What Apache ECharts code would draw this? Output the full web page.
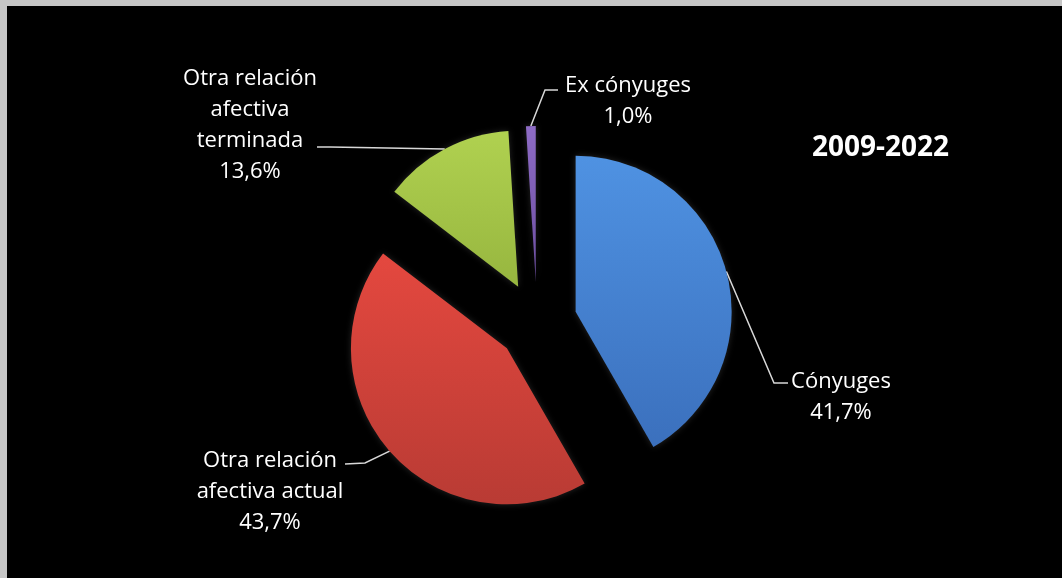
<!DOCTYPE html>
<html>
<head>
<meta charset="utf-8">
<script src="https://cdn.jsdelivr.net/npm/echarts@6/dist/echarts.min.js"></script>
<style>
	html, body { margin: 0; padding: 0; background: #c6c6c6; }
	#main { position: absolute; left: 7px; top: 6px; width: 1055px; height: 572px; background: #000; }
</style>
</head>
<body>
<div id="main"></div>
<script>
// data
const categories = ['Cónyuges', 'Otra relación afectiva actual', 'Otra relación afectiva terminada', 'Ex cónyuges'];
const labelTexts = ['Cónyuges', 'Otra relación\nafectiva actual', 'Otra relación\nafectiva\nterminada', 'Ex cónyuges'];
const values = [41.7, 43.7, 13.6, 1.0];
const period = '2009-2022';

// slice colours (top, bottom of the gradient)
const colors = [
	['#4f92e2', '#3b70bd'],
	['#e4483f', '#b93b34'],
	['#b0d150', '#97b63f'],
	['#8e6cc6', '#6c4ea0']
];

const pieCenter = [530, 316];
const explode = 40;

// where each label sits (block centre), where its leader bends and ends
const labelPos = [
	{ x: 834, y: 391, bend: [767, 377], end: [781, 377] },
	{ x: 263, y: 486, bend: [358, 457], end: [338, 458] },
	{ x: 243, y: 119, bend: [323, 141], end: [310, 141] },
	{ x: 621, y: 95, bend: [538, 84], end: [551, 84] }
];

const fmt = v => v.toFixed(1).replace('.', ',') + '%';

const chart = echarts.init(document.getElementById('main'));

const option = {
	backgroundColor: '#000',
	animation: false,
	title: {
		text: period,
		left: 805,
		top: 128,
		padding: 0,
		textStyle: {
			color: '#fff',
			fontFamily: 'Open Sans',
			fontWeight: 'bold',
			fontSize: 28
		}
	},
	series: [
		{
			type: 'pie',
			center: pieCenter,
			radius: 156,
			startAngle: 90,
			clockwise: true,
			avoidLabelOverlap: false,
			selectedMode: 'multiple',
			selectedOffset: explode,
			emphasis: { disabled: true },
			label: {
				show: true,
				position: 'outside',
				color: '#fff',
				fontFamily: 'Open Sans',
				fontSize: 22,
				lineHeight: 31,
				formatter: p => labelTexts[p.dataIndex] + '\n' + fmt(p.value)
			},
			labelLine: {
				show: true,
				lineStyle: { color: '#d8d8d8', width: 1.5 }
			},
			labelLayout: function (params) {
				const pos = labelPos[params.dataIndex];
				const rect = params.labelRect;
				const start = params.labelLinePoints[0];
				// the slice, its label and leader are shifted along the mid direction
				const vx = start[0] - pieCenter[0];
				const vy = start[1] - pieCenter[1];
				const len = Math.sqrt(vx * vx + vy * vy) || 1;
				const ox = explode * vx / len;
				const oy = explode * vy / len;
				// anchor of the default label (left aligned on the right side, right aligned on the left)
				const ax = vx < 0 ? rect.x + rect.width : rect.x;
				const ay = rect.y + rect.height / 2;
				return {
					dx: pos.x - ox - ax,
					dy: pos.y - oy - ay,
					align: 'center',
					verticalAlign: 'middle',
					labelLinePoints: [
						start,
						[pos.bend[0] - ox, pos.bend[1] - oy],
						[pos.end[0] - ox, pos.end[1] - oy]
					]
				};
			},
			data: categories.map((name, i) => ({
				name: name,
				value: values[i],
				selected: true,
				itemStyle: {
					color: new echarts.graphic.LinearGradient(0, 0, 0, 1, [
						{ offset: 0, color: colors[i][0] },
						{ offset: 1, color: colors[i][1] }
					]),
					shadowBlur: 6,
					shadowColor: 'rgba(255,255,255,0.15)'
				}
			}))
		}
	]
};

chart.setOption(option);
</script>
</body>
</html>
